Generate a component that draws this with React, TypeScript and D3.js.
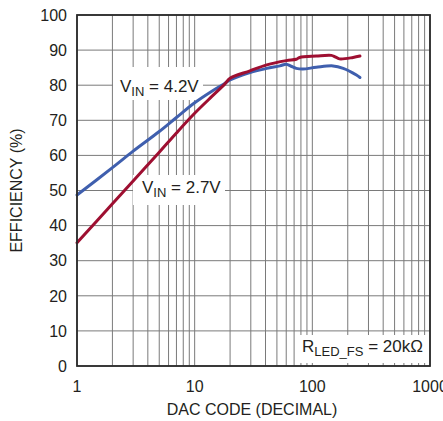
import React from "react";
import * as d3 from "d3";

const blueCode = [1, 2, 3, 5, 7, 10, 14, 18, 20, 29.5, 41, 53, 60, 66, 73, 83, 108, 150, 183, 237, 254];
const blueEff = [48.7, 56.5, 61.2, 66.8, 70.8, 75.0, 78.3, 80.5, 81.5, 83.6, 84.8, 85.5, 86.0, 85.4, 84.8, 84.6, 85.1, 85.5, 84.8, 82.9, 82.2];

const redCode = [1, 2, 3, 5, 7, 10, 14, 18, 20, 29.5, 41, 60, 73, 78, 108, 145, 156, 170, 222, 254];
const redEff = [35.1, 46.2, 52.7, 60.9, 66.4, 72.0, 76.8, 80.3, 82.0, 84.1, 85.8, 87.0, 87.4, 87.9, 88.3, 88.5, 88.1, 87.5, 87.9, 88.3];

const yTicks = [0, 10, 20, 30, 40, 50, 60, 70, 80, 90, 100];
const xTickLabels = [1, 10, 100, 1000];

const LEFT = 77, RIGHT = 430, TOP = 15, BOTTOM = 366;
const FONT = "'Liberation Sans', Arial, Helvetica, sans-serif";

export default function App() {
  const x = d3.scaleLog().domain([1, 1000]).range([LEFT, RIGHT]);
  const y = d3.scaleLinear().domain([0, 100]).range([BOTTOM, TOP]);

  const xGrid: number[] = [];
  for (let dec = 1; dec < 1000; dec *= 10) {
    for (let m = 1; m <= 9; m++) xGrid.push(dec * m);
  }
  xGrid.push(1000);

  const line = d3
    .line<[number, number]>()
    .x((d) => x(d[0]))
    .y((d) => y(d[1]))
    .curve(d3.curveCatmullRom.alpha(0.5));

  const blue = line(blueCode.map((c, i) => [c, blueEff[i]] as [number, number]));
  const red = line(redCode.map((c, i) => [c, redEff[i]] as [number, number]));

  const gridColor = "#7a7a7a";

  return (
    <svg
      width={443}
      height={421}
      style={{ position: "absolute", left: 0, top: 0, display: "block" }}
      fontFamily={FONT}
    >
      <rect x={0} y={0} width={443} height={421} fill="#fff" />
      {/* grid */}
      {xGrid.map((v) => (
        <line key={"vx" + v} x1={x(v)} x2={x(v)} y1={TOP} y2={BOTTOM} stroke={gridColor} strokeWidth={1} />
      ))}
      {yTicks.map((v) => (
        <line key={"hy" + v} x1={LEFT} x2={RIGHT} y1={y(v)} y2={y(v)} stroke={gridColor} strokeWidth={1} />
      ))}
      {/* label backgrounds */}
      <rect x={113} y={67} width={90} height={33} fill="#fff" />
      <rect x={133} y={175} width={92} height={30} fill="#fff" />
      <rect x={296} y={335} width={132} height={28} fill="#fff" />

      {/* curves */}
      <path d={blue || ""} fill="none" stroke="#3f5fae" strokeWidth={3} strokeLinejoin="round" strokeLinecap="round" />
      <path d={red || ""} fill="none" stroke="#9e0f31" strokeWidth={3} strokeLinejoin="round" strokeLinecap="round" />

      {/* frame */}
      <rect x={LEFT} y={TOP} width={RIGHT - LEFT} height={BOTTOM - TOP} fill="none" stroke="#2b2b2b" strokeWidth={1.8} />

      {/* y tick labels */}
      {yTicks.map((v) => (
        <text key={"yl" + v} x={67} y={y(v)} dy="0.36em" textAnchor="end" fontSize={16} fill="#231f20">
          {v}
        </text>
      ))}
      {/* x tick labels */}
      {xTickLabels.map((v) => (
        <text key={"xl" + v} x={x(v)} y={392} textAnchor="middle" fontSize={16} fill="#231f20">
          {v}
        </text>
      ))}

      {/* axis titles */}
      <text x={252} y={415} textAnchor="middle" fontSize={16} fill="#231f20">
        DAC CODE (DECIMAL)
      </text>
      <text
        transform={`translate(22,${(TOP + BOTTOM) / 2}) rotate(-90)`}
        textAnchor="middle"
        fontSize={16}
        fill="#231f20"
      >
        EFFICIENCY (%)
      </text>

      {/* annotations */}
      <text x={120} y={92} fontSize={17} fill="#231f20">
        V<tspan fontSize={13} dy={4}>IN</tspan>
        <tspan dy={-4}> = 4.2V</tspan>
      </text>
      <text x={142} y={193} fontSize={17} fill="#231f20">
        V<tspan fontSize={13} dy={4}>IN</tspan>
        <tspan dy={-4}> = 2.7V</tspan>
      </text>
      <text x={302} y={352} fontSize={17} fill="#231f20">
        R<tspan fontSize={13} dy={4}>LED_FS</tspan>
        <tspan dy={-4}> = 20kΩ</tspan>
      </text>
    </svg>
  );
}
